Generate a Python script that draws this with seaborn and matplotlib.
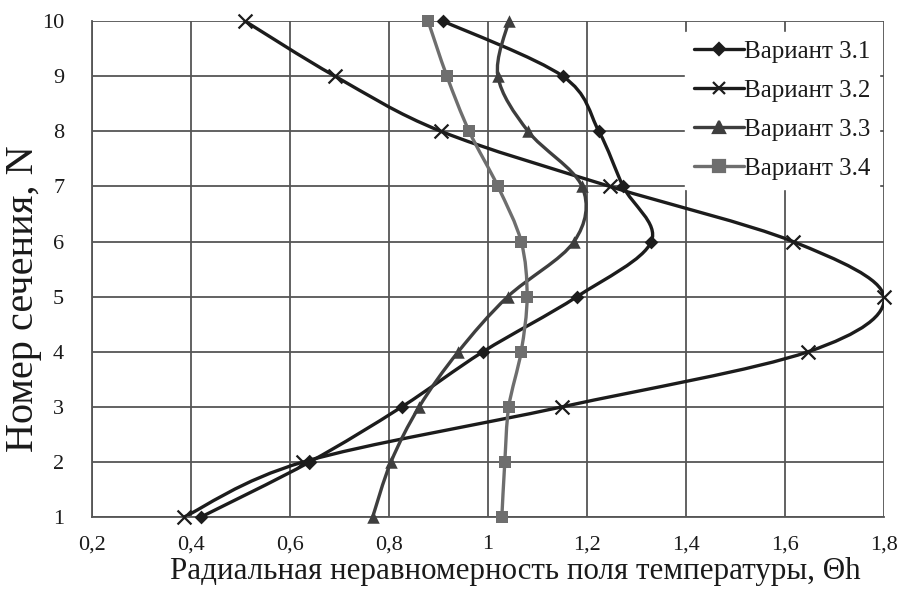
import numpy as np
import pandas as pd
import matplotlib
matplotlib.use('Agg')
import matplotlib.pyplot as plt
from matplotlib.path import Path
from matplotlib.patches import PathPatch
from matplotlib.lines import Line2D
import seaborn as sns

# section numbers
sections = [1, 2, 3, 4, 5, 6, 7, 8, 9, 10]

# radial temperature non-uniformity for each variant
var_31 = [0.42, 0.64, 0.826, 0.99, 1.18, 1.33, 1.273, 1.224, 1.151, 0.909]
var_32 = [0.386, 0.627, 1.15, 1.647, 1.80, 1.616, 1.246, 0.905, 0.691, 0.509]
var_33 = [0.767, 0.804, 0.861, 0.94, 1.04, 1.174, 1.19, 1.081, 1.02, 1.042]
var_34 = [1.028, 1.034, 1.042, 1.067, 1.079, 1.067, 1.02, 0.962, 0.917, 0.879]

names = ['Вариант 3.1', 'Вариант 3.2', 'Вариант 3.3', 'Вариант 3.4']
x_ticks = [0.2, 0.4, 0.6, 0.8, 1.0, 1.2, 1.4, 1.6, 1.8]
x_tick_labels = ['0,2', '0,4', '0,6', '0,8', '1', '1,2', '1,4', '1,6', '1,8']

colors = {'Вариант 3.1': '#1c1c1c', 'Вариант 3.2': '#1c1c1c',
          'Вариант 3.3': '#3e3e3e', 'Вариант 3.4': '#6e6e6e'}
markers = {'Вариант 3.1': 'D', 'Вариант 3.2': 'x',
           'Вариант 3.3': '^', 'Вариант 3.4': 's'}
msizes = {'Вариант 3.1': 7, 'Вариант 3.2': 10, 'Вариант 3.3': 9, 'Вариант 3.4': 9}

df = pd.DataFrame({
    'x': var_31 + var_32 + var_33 + var_34,
    'N': sections * 4,
    'variant': [n for n in names for _ in sections],
})

sns.set_style('white')
plt.rcParams['font.family'] = ['Liberation Serif', 'DejaVu Serif']


def smooth_path(xs, ys):
    # excel-like smoothed line: cubic bezier through the points
    pts = np.column_stack([xs, ys]).astype(float)
    n = len(pts)
    verts = [pts[0]]
    codes = [Path.MOVETO]
    for i in range(n - 1):
        p0 = pts[i - 1] if i > 0 else pts[i]
        p1 = pts[i]
        p2 = pts[i + 1]
        p3 = pts[i + 2] if i + 2 < n else pts[i + 1]
        c1 = p1 + (p2 - p0) / 6.0
        c2 = p2 - (p3 - p1) / 6.0
        verts += [c1, c2, p2]
        codes += [Path.CURVE4, Path.CURVE4, Path.CURVE4]
    return Path(verts, codes)


fig = plt.figure(figsize=(9.04, 5.89), dpi=100)
ax = fig.add_axes([0.1018, 0.1222, 0.876, 0.842])

grid_c = '#555555'
for xv in x_ticks:
    ax.axvline(xv, color=grid_c, lw=1.3, zorder=0)
for yv in sections:
    ax.axhline(yv, color=grid_c, lw=1.3, zorder=0)

for name in names:
    sub = df[df['variant'] == name]
    patch = PathPatch(smooth_path(sub['x'].values, sub['N'].values),
                      fill=False, edgecolor=colors[name], lw=2.4, zorder=2,
                      capstyle='round', joinstyle='round')
    ax.add_patch(patch)
    sns.scatterplot(data=sub, x='x', y='N', ax=ax, marker=markers[name],
                    color=colors[name], s=msizes[name] ** 2,
                    linewidth=1.6 if name == 'Вариант 3.2' else 0,
                    edgecolor=colors[name], zorder=3, legend=False)
    ax.collections[-1].set_clip_on(False)

ax.set_xlim(0.2, 1.8)
ax.set_ylim(1, 10)
ax.set_xticks(x_ticks)
ax.set_xticklabels(x_tick_labels)
ax.set_yticks(sections)
for s in ['top', 'right']:
    ax.spines[s].set_visible(False)
for s in ['left', 'bottom']:
    ax.spines[s].set_color(grid_c)
    ax.spines[s].set_linewidth(1.3)
ax.tick_params(axis='both', direction='out', length=6, width=1.2,
               color=grid_c, labelsize=16, labelcolor='#1a1a1a')
ax.tick_params(axis='x', pad=7)
ax.tick_params(axis='y', pad=14)
ax.set_xlabel('Радиальная неравномерность поля температуры, Θh',
              fontsize=22.3, color='#1a1a1a')
ax.set_ylabel('Номер сечения, N', fontsize=29, color='#1a1a1a')
ax.xaxis.set_label_coords(0.534, -0.08)
ax.yaxis.set_label_coords(-0.063, 0.44)

handles = [Line2D([0], [0], color=colors[n], lw=2.4, marker=markers[n],
                  markersize=msizes[n] * 0.9, markeredgewidth=1.6,
                  markeredgecolor=colors[n]) for n in names]
leg = ax.legend(handles, names, loc='upper right', bbox_to_anchor=(0.994, 0.978),
                frameon=True, fontsize=18, handlelength=2.0, handletextpad=0.0,
                labelspacing=0.66, borderpad=0.35, borderaxespad=0.0,
                fancybox=False)
leg.get_frame().set_edgecolor('white')
leg.get_frame().set_facecolor('white')
leg.get_frame().set_alpha(1.0)
leg.set_zorder(5)
for t in leg.get_texts():
    t.set_color('#1a1a1a')

fig.savefig('out.png', dpi=100)
